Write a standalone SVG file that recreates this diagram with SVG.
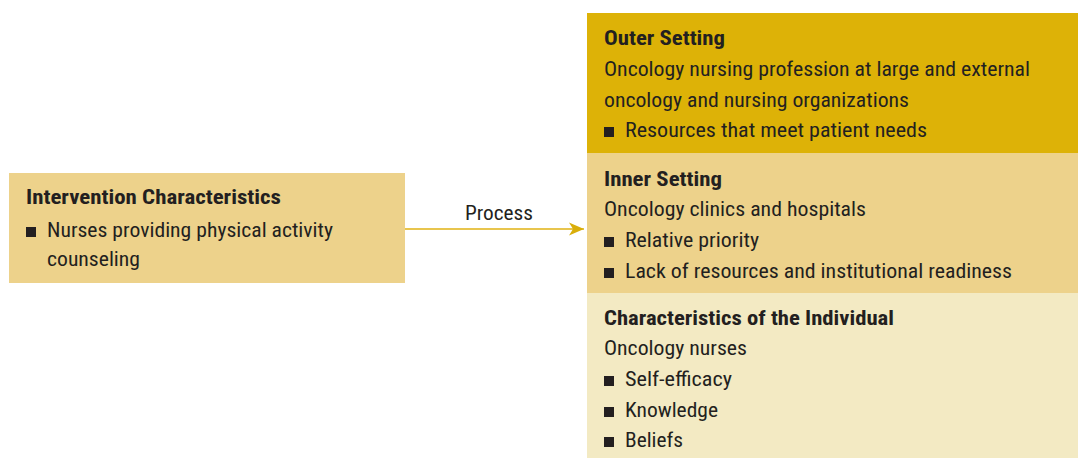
<svg xmlns="http://www.w3.org/2000/svg" width="1078" height="458" viewBox="0 0 1078 458">
<style>
text{font-family:"Liberation Sans Narrow","Roboto Condensed","DejaVu Sans Condensed","Liberation Sans",sans-serif;font-size:21px;fill:#231F20}
.t{font-weight:bold}
.b{fill:#231F20}
</style>
<defs>
<marker id="ah" markerUnits="userSpaceOnUse" markerWidth="16" markerHeight="14" viewBox="0 0 16 14" refX="15" refY="7" orient="auto">
<path d="M0,0.5 L15,7 L0,13.5 L4,7 Z" fill="#D9AE0A"/>
</marker>
</defs>
<rect width="1078" height="458" fill="#FFFFFF"/>
<g id="outer-setting">
<rect x="587" y="13" width="491" height="140" fill="#DDB207"/>
<text class="t" x="604" y="45" textLength="121" lengthAdjust="spacingAndGlyphs">Outer Setting</text>
<text x="604" y="76" textLength="426" lengthAdjust="spacingAndGlyphs">Oncology nursing profession at large and external</text>
<text x="604" y="106.5" textLength="305" lengthAdjust="spacingAndGlyphs">oncology and nursing organizations</text>
<rect class="b" x="604" y="127" width="10" height="10"/>
<text x="625" y="137" textLength="302" lengthAdjust="spacingAndGlyphs">Resources that meet patient needs</text>
</g>
<g id="inner-setting">
<rect x="587" y="153" width="491" height="140" fill="#EDD28B"/>
<text class="t" x="604" y="186" textLength="118" lengthAdjust="spacingAndGlyphs">Inner Setting</text>
<text x="604" y="216" textLength="262" lengthAdjust="spacingAndGlyphs">Oncology clinics and hospitals</text>
<rect class="b" x="604" y="237" width="10" height="10"/>
<text x="625" y="247" textLength="134" lengthAdjust="spacingAndGlyphs">Relative priority</text>
<rect class="b" x="604" y="268" width="10" height="10"/>
<text x="625" y="278" textLength="387" lengthAdjust="spacingAndGlyphs">Lack of resources and institutional readiness</text>
</g>
<g id="individual">
<rect x="587" y="293" width="491" height="165" fill="#F3EAC3"/>
<text class="t" x="604" y="325" textLength="290" lengthAdjust="spacingAndGlyphs">Characteristics of the Individual</text>
<text x="604" y="355" textLength="143" lengthAdjust="spacingAndGlyphs">Oncology nurses</text>
<rect class="b" x="604" y="376" width="10" height="10"/>
<text x="625" y="386" textLength="107" lengthAdjust="spacingAndGlyphs">Self-efficacy</text>
<rect class="b" x="604" y="407" width="10" height="10"/>
<text x="625" y="417" textLength="93" lengthAdjust="spacingAndGlyphs">Knowledge</text>
<rect class="b" x="604" y="437" width="10" height="10"/>
<text x="625" y="447" textLength="58" lengthAdjust="spacingAndGlyphs">Beliefs</text>
</g>
<g id="intervention">
<rect x="9" y="173" width="396" height="110" fill="#EDD28B"/>
<text class="t" x="26" y="204" textLength="255" lengthAdjust="spacingAndGlyphs">Intervention Characteristics</text>
<rect class="b" x="26" y="227" width="10" height="10"/>
<text x="47" y="237" textLength="286" lengthAdjust="spacingAndGlyphs">Nurses providing physical activity</text>
<text x="47" y="266" textLength="93" lengthAdjust="spacingAndGlyphs">counseling</text>
</g>
<g id="connectors">
<line x1="405" y1="229" x2="584" y2="229" stroke="#E8C54E" stroke-width="2" marker-end="url(#ah)"/>
<text x="499" y="220" text-anchor="middle" textLength="68" lengthAdjust="spacingAndGlyphs">Process</text>
</g>
</svg>
